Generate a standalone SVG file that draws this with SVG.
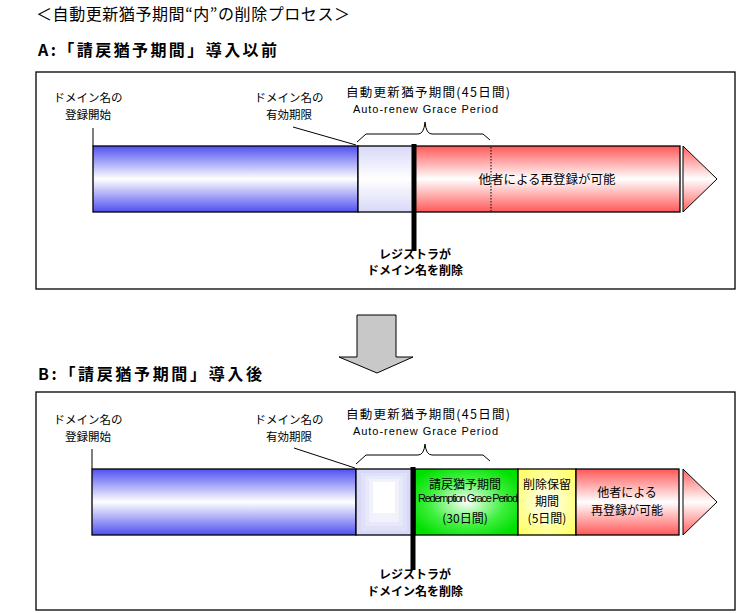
<svg xmlns="http://www.w3.org/2000/svg" width="738" height="613" viewBox="0 0 738 613">
<style>
.jp{font-family:"Noto Sans CJK JP","Liberation Sans",sans-serif;fill:#000}
.lbl{font-size:11.5px}
.bold{font-weight:bold}
.en{font-family:"Liberation Sans","DejaVu Sans",sans-serif;font-size:11px;fill:#000}
.frame{fill:#fff;stroke:#000;stroke-width:1.3}
.seg{stroke:#000;stroke-width:1.3}
.thin{fill:none;stroke:#000;stroke-width:1}
.del{stroke:#000;stroke-width:5}
</style>
<defs>
<linearGradient id="gBlue" x1="0" y1="0" x2="0" y2="1">
<stop offset="0" stop-color="#5050f0"/><stop offset="0.5" stop-color="#fff"/><stop offset="1" stop-color="#5050f0"/>
</linearGradient>
<linearGradient id="gLight" x1="0" y1="0" x2="0" y2="1">
<stop offset="0" stop-color="#d8d8f8"/><stop offset="0.5" stop-color="#fff"/><stop offset="1" stop-color="#d8d8f8"/>
</linearGradient>
<linearGradient id="gRed" x1="0" y1="0" x2="0" y2="1">
<stop offset="0" stop-color="#ff5858"/><stop offset="0.5" stop-color="#fff"/><stop offset="1" stop-color="#ff5858"/>
</linearGradient>
<linearGradient id="gTri" x1="0" y1="0" x2="0" y2="1">
<stop offset="0" stop-color="#ff6060"/><stop offset="0.5" stop-color="#fff"/><stop offset="1" stop-color="#ff6060"/>
</linearGradient>
<radialGradient id="gGreen" cx="0.5" cy="0.5" r="0.6">
<stop offset="0" stop-color="#fff"/><stop offset="0.6" stop-color="#40f040"/><stop offset="1" stop-color="#00e000"/>
</radialGradient>
<radialGradient id="gYellow" cx="0.5" cy="0.5" r="0.65">
<stop offset="0" stop-color="#fff"/><stop offset="1" stop-color="#ffff60"/>
</radialGradient>
</defs>

<g id="title">
<text class="jp" x="36" y="20" font-size="16" textLength="314" lengthAdjust="spacing">＜自動更新猶予期間“内”の削除プロセス＞</text>
</g>
<g id="headA"><text class="jp bold" x="38" y="56" font-size="16" textLength="239" lengthAdjust="spacing">A:「請戻猶予期間」導入以前</text></g>
<g id="headB"><text class="jp bold" x="38" y="380" font-size="16" textLength="224" lengthAdjust="spacing">B:「請戻猶予期間」導入後</text></g>

<!-- Panel A -->
<g id="panelA">
<rect class="frame" x="36" y="72" width="699" height="217"/>
</g>
<g id="A-registered">
<rect class="seg" x="93" y="146" width="265" height="66" fill="url(#gBlue)"/>
</g>
<g id="A-autorenew">
<rect class="seg" x="358" y="146" width="57" height="66" fill="url(#gLight)"/>
</g>
<g id="A-open">
<rect class="seg" x="415" y="146" width="265" height="66" fill="url(#gRed)"/>
<line x1="491" y1="147" x2="491" y2="211" stroke="#000" stroke-width="1" stroke-dasharray="1.5,1.5"/>
<text class="jp" x="547" y="184" font-size="12.5" text-anchor="middle">他者による再登録が可能</text>
</g>
<g id="A-arrowhead">
<polygon points="683,146 717,179 683,212" fill="url(#gTri)" stroke="#000" stroke-width="1"/>
</g>
<g id="A-labels">
<text class="jp lbl" x="88" y="102" text-anchor="middle">ドメイン名の</text>
<text class="jp lbl" x="88" y="119" text-anchor="middle">登録開始</text>
<text class="jp lbl" x="289" y="102" text-anchor="middle">ドメイン名の</text>
<text class="jp lbl" x="289" y="119" text-anchor="middle">有効期限</text>
<text class="jp" x="346" y="97" font-size="12.5" textLength="164" lengthAdjust="spacing">自動更新猶予期間(45日間)</text>
<text class="en" x="353" y="113" textLength="145" lengthAdjust="spacing">Auto-renew Grace Period</text>
</g>
<g id="A-delete">
<line class="del" x1="414" y1="144" x2="414" y2="251"/>
<text class="jp bold" x="415" y="259" font-size="12" text-anchor="middle">レジストラが</text>
<text class="jp bold" x="415" y="275" font-size="12" text-anchor="middle">ドメイン名を削除</text>
</g>

<!-- Gray arrow -->
<g id="transition">
<polygon points="357,315 396,315 396,357 413,357 377,373 339,357 357,357" fill="#c8c8c8" stroke="#000" stroke-width="1"/>
</g>

<!-- Panel B -->
<g id="panelB">
<rect class="frame" x="36" y="392" width="699" height="218"/>
</g>
<g id="B-registered">
<rect class="seg" x="92" y="469" width="264" height="66" fill="url(#gBlue)"/>
</g>
<g id="B-autorenew">
<rect x="356" y="469" width="57" height="66" fill="#d8d8f8"/>
<rect x="361" y="473" width="46" height="58" fill="#e0e0f9"/>
<rect x="365" y="476" width="38" height="50" fill="#e8e8fb"/>
<rect x="369" y="479" width="30" height="43" fill="#f2f2fd"/>
<rect x="373" y="482" width="22" height="31" fill="#fff"/>
<rect class="seg" x="356" y="469" width="57" height="66" fill="none"/>
</g>
<g id="B-redemption">
<rect class="seg" x="415" y="469" width="103" height="66" fill="url(#gGreen)"/>
<text class="jp" x="465" y="489" font-size="12" text-anchor="middle">請戻猶予期間</text>
<text class="en" x="418" y="502" font-size="7" textLength="100" lengthAdjust="spacing">Redemption Grace Period</text>
<text class="jp" x="465" y="523" font-size="12" text-anchor="middle">(30日間)</text>
</g>
<g id="B-pending">
<rect class="seg" x="518" y="469" width="58" height="66" fill="url(#gYellow)"/>
<text class="jp" x="547" y="489" font-size="12" text-anchor="middle">削除保留</text>
<text class="jp" x="547" y="506" font-size="12" text-anchor="middle">期間</text>
<text class="jp" x="547" y="523" font-size="12" text-anchor="middle">(5日間)</text>
</g>
<g id="B-open">
<rect class="seg" x="576" y="469" width="103" height="66" fill="url(#gRed)"/>
<text class="jp" x="627" y="497" font-size="12" text-anchor="middle">他者による</text>
<text class="jp" x="627" y="515" font-size="12" text-anchor="middle">再登録が可能</text>
</g>
<g id="B-arrowhead">
<polygon points="683,469 717,502 683,535" fill="url(#gTri)" stroke="#000" stroke-width="1"/>
</g>
<g id="B-labels">
<text class="jp lbl" x="88" y="424" text-anchor="middle">ドメイン名の</text>
<text class="jp lbl" x="88" y="441" text-anchor="middle">登録開始</text>
<text class="jp lbl" x="289" y="424" text-anchor="middle">ドメイン名の</text>
<text class="jp lbl" x="289" y="441" text-anchor="middle">有効期限</text>
<text class="jp" x="346" y="419" font-size="12.5" textLength="164" lengthAdjust="spacing">自動更新猶予期間(45日間)</text>
<text class="en" x="353" y="435" textLength="145" lengthAdjust="spacing">Auto-renew Grace Period</text>
</g>
<g id="B-delete">
<line class="del" x1="413" y1="467" x2="413" y2="570"/>
<text class="jp bold" x="415" y="579" font-size="12" text-anchor="middle">レジストラが</text>
<text class="jp bold" x="415" y="596" font-size="12" text-anchor="middle">ドメイン名を削除</text>
</g>

<g id="connectors">
<line class="thin" x1="93" y1="128" x2="93" y2="146"/>
<line class="thin" x1="293" y1="127" x2="356" y2="145"/>
<path class="thin" d="M357,142 L366,134 L418,134 Q424,134 425,122 Q426,134 432,134 L483,134 L490,140"/>
<line class="thin" x1="92" y1="449" x2="92" y2="469"/>
<line class="thin" x1="294" y1="448" x2="355" y2="468"/>
<path class="thin" d="M356,464 L366,455 L418,455 Q424,455 425,444 Q426,455 432,455 L483,455 L490,461"/>
</g>
</svg>
